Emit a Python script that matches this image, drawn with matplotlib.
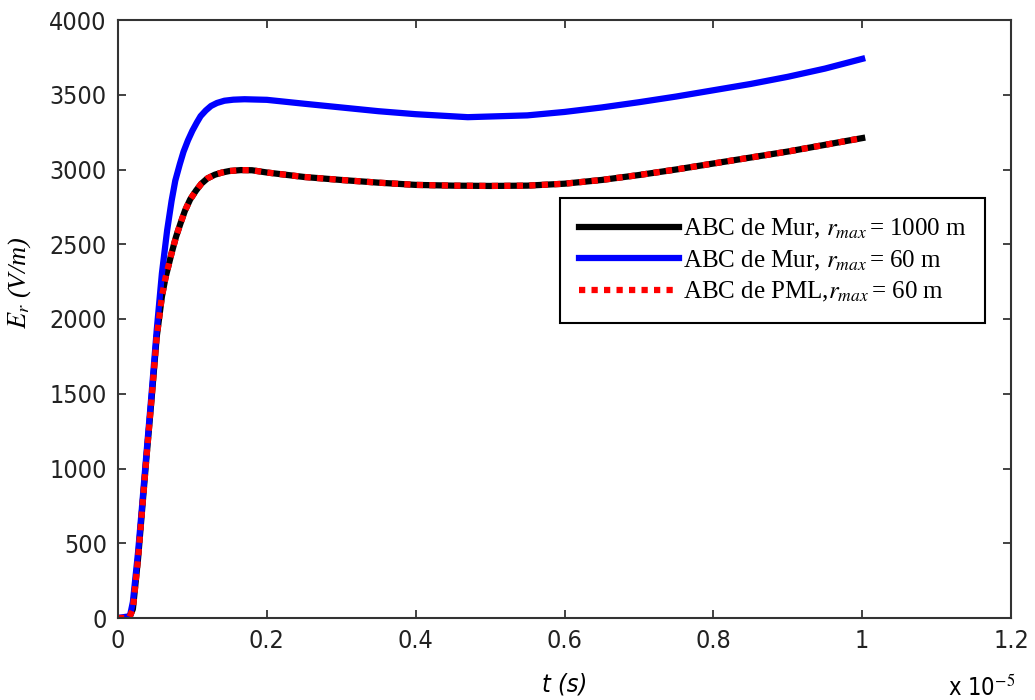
import numpy as np
import matplotlib
matplotlib.use("Agg")
import matplotlib.pyplot as plt

plt.rcParams['mathtext.fontset'] = 'stix'

# time in units of 1e-5 s
t_mur60 = [0, 0.016, 0.020, 0.027, 0.032, 0.038, 0.045, 0.052, 0.059, 0.066, 0.072,
           0.077, 0.083, 0.088, 0.094, 0.100, 0.106, 0.111, 0.118, 0.125, 0.133,
           0.143, 0.155, 0.17, 0.20, 0.25, 0.30, 0.35, 0.40,
           0.47, 0.55, 0.60, 0.65, 0.70, 0.75, 0.80, 0.85, 0.90, 0.95, 1.0]
e_mur60 = [0, 12, 107, 442, 729, 1087, 1493, 1923, 2305, 2592, 2790,
           2926, 3035, 3118, 3195, 3260, 3315, 3357, 3395, 3425, 3445,
           3460, 3467, 3470, 3466, 3440, 3415, 3390, 3370,
           3350, 3362, 3385, 3415, 3450, 3488, 3530, 3572, 3620, 3675, 3740]

t_mur1000 = [0, 0.015, 0.020, 0.027, 0.032, 0.038, 0.045, 0.052, 0.059, 0.064, 0.068,
             0.072, 0.078, 0.084, 0.090, 0.097, 0.105, 0.112, 0.120, 0.130, 0.140,
             0.150, 0.165, 0.18, 0.20, 0.25, 0.30, 0.35, 0.40, 0.45,
             0.50, 0.55, 0.60, 0.65, 0.70, 0.75, 0.80, 0.85, 0.90, 0.95, 1.0]
e_mur1000 = [0, 0, 60, 400, 700, 1060, 1460, 1880, 2150, 2280, 2360,
             2440, 2550, 2640, 2725, 2800, 2860, 2905, 2940, 2965, 2980,
             2990, 2996, 2995, 2980, 2950, 2930, 2912, 2897, 2892,
             2890, 2892, 2905, 2930, 2963, 3000, 3040, 3080, 3120, 3165, 3210]

# PML curve overlaps Mur 1000 m
t_pml = t_mur1000
e_pml = e_mur1000

fig = plt.figure(figsize=(10.35, 7), dpi=100)
ax = fig.add_axes([118/1035, 1-618/700, 893/1035, 598/700])

ax.plot(t_mur1000, e_mur1000, color='k', lw=4.5,
        label='ABC de Mur, $r_{max}$' + r'$\,$= 1000 m')
ax.plot(t_mur60, e_mur60, color='b', lw=4.5,
        label='ABC de Mur, $r_{max}$' + r'$\,$= 60 m')
ax.plot(t_pml, e_pml, color='r', lw=4.5, linestyle=(0, (1, 1)),
        label='ABC de PML,$r_{max}$' + r'$\,$= 60 m')

ax.set_xlim(0, 1.2)
ax.set_ylim(0, 4000)
ax.set_xticks([0, 0.2, 0.4, 0.6, 0.8, 1, 1.2])
ax.set_xticklabels(['0', '0.2', '0.4', '0.6', '0.8', '1', '1.2'])
ax.set_yticks(range(0, 4001, 500))

for lab in ax.get_xticklabels() + ax.get_yticklabels():
    lab.set_family('DejaVu Sans')
    lab.set_stretch('condensed')
    lab.set_fontsize(18)
ax.tick_params(direction='in', length=6, width=1.2, top=True, right=True,
               colors='#222222', pad=8)
for s in ax.spines.values():
    s.set_linewidth(1.5)
    s.set_color('#333333')

ax.set_xlabel('t (s)', fontsize=18, style='italic', family='DejaVu Sans',
              stretch='condensed', labelpad=14)
ax.set_ylabel('$E_r$ (V/m)', fontsize=19, style='italic', family='Liberation Serif',
              labelpad=10)
ax.yaxis.set_label_coords(-0.095, 0.56)
fig.text(948/1035, 1-688/700, r'x 10$^{-5}$', fontsize=17,
         family='DejaVu Sans', stretch='condensed', va='center')

leg = ax.legend(loc='upper right', bbox_to_anchor=(0.971, 0.702), borderaxespad=0,
                prop={'family': 'Liberation Serif', 'size': 18}, handlelength=4.0,
                handletextpad=0.15, labelspacing=0.3, borderpad=0.75, fancybox=False,
                edgecolor='k', framealpha=1)
leg.get_frame().set_linewidth(1.5)

fig.savefig('out.png', dpi=100)
